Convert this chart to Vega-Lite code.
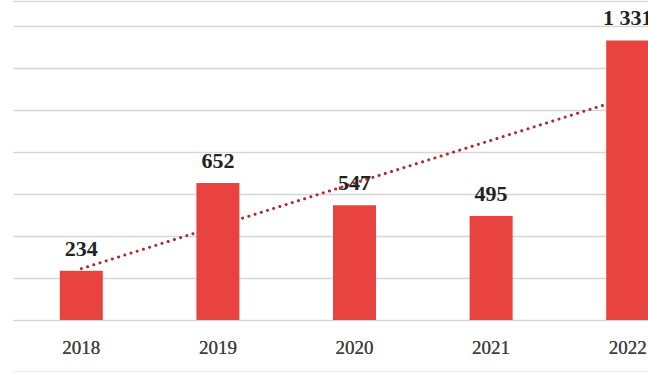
{
  "$schema": "https://vega.github.io/schema/vega-lite/v6.json",
  "autosize": "none",
  "width": 635,
  "height": 371,
  "padding": {"left": 13, "top": 1, "right": 0, "bottom": 0},
  "background": "white",
  "config": {
    "view": {"stroke": null},
    "locale": {"number": {"decimal": ",", "thousands": " ", "grouping": [3], "currency": ["", ""]}},
    "font": "Liberation Serif"
  },
  "data": {"values": [
    {"year": 2018, "value": 234},
    {"year": 2019, "value": 652},
    {"year": 2020, "value": 547},
    {"year": 2021, "value": 495},
    {"year": 2022, "value": 1331}
  ]},
  "encoding": {
    "x": {
      "field": "year", "type": "ordinal",
      "scale": {"range": [0, 683], "paddingInner": 0.685, "paddingOuter": 0.3425},
      "axis": {
        "orient": "bottom", "title": null, "domain": true, "domainColor": "#d9d9d9", "domainWidth": 1.5,
        "ticks": false, "labelFont": "Liberation Serif", "labelFontSize": 19, "labelColor": "#404040",
        "labelBaseline": "alphabetic", "labelPadding": -19, "labelAngle": 0, "grid": false
      }
    },
    "y": {
      "field": "value", "type": "quantitative",
      "scale": {"domain": [0, 1400], "range": [319, 25], "nice": false, "zero": true},
      "axis": {
        "title": null, "labels": false, "ticks": false, "domain": false, "grid": true,
        "gridColor": "#d6d6d6", "gridWidth": 1.5, "values": [0, 200, 400, 600, 800, 1000, 1200, 1400]
      }
    }
  },
  "layer": [
    {
      "transform": [{"regression": "value", "on": "year"}],
      "mark": {"type": "line", "color": "#a82e33", "strokeWidth": 3, "strokeDash": [0.1, 6.4], "strokeCap": "round"}
    },
    {
      "mark": {"type": "bar", "color": "#e8433f"},
      "encoding": {
        "x": {
          "field": "year", "type": "ordinal",
          "axis": {"orient": "top", "title": null, "labels": false, "ticks": false, "domain": true, "domainColor": "#d9d9d9", "domainWidth": 1.5, "grid": false}
        }
      }
    },
    {
      "mark": {"type": "text", "font": "Liberation Serif", "fontSize": 22, "fontWeight": "bold", "color": "#222222", "baseline": "alphabetic", "dy": -15},
      "encoding": {"text": {"field": "value", "type": "quantitative", "format": ",d"}}
    }
  ],
  "resolve": {"axis": {"x": "independent"}}
}
